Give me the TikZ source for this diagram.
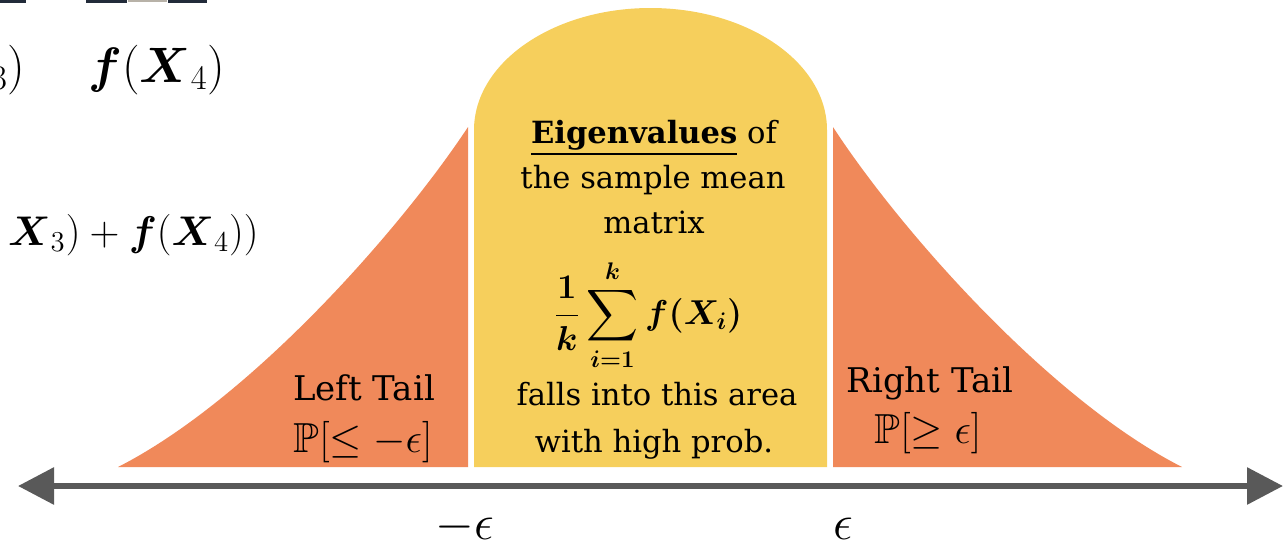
\documentclass[tikz,border=0pt]{standalone}
\usepackage{amsmath,amssymb}
\usepackage{fontspec}
\setmainfont{DejaVu Serif}
\usetikzlibrary{arrows.meta}
\definecolor{tailorange}{HTML}{F0895A}
\definecolor{midyellow}{HTML}{F6CF5C}
\definecolor{axisgray}{HTML}{595959}
\definecolor{boxnavy}{HTML}{222B3A}
\definecolor{boxgray}{HTML}{B8B2A8}

\begin{document}
\begin{tikzpicture}[x=0.5pt, y=-0.5pt,
  midtext/.style={font=\fontsize{15.3}{18}\selectfont, anchor=base, inner sep=0pt},
  tailtext/.style={font=\fontsize{17}{20}\selectfont, anchor=base, inner sep=0pt},
  tailmath/.style={font=\fontsize{21}{24}\selectfont, anchor=base, inner sep=0pt},
  topmath/.style={font=\fontsize{23.5}{27}\selectfont, inner sep=0pt},
  meanmath/.style={font=\fontsize{18}{21}\selectfont\boldmath, inner sep=0pt},
  epstext/.style={font=\fontsize{23}{26}\selectfont, inner sep=0pt},
  numline/.style={line width=3pt, draw=axisgray,
    {Triangle[length=18pt,width=18pt]}-{Triangle[length=18pt,width=18pt]}}]
  \useasboundingbox (0,0) rectangle (1286,542);
  \clip (0,0) rectangle (1286,542);

  % cut-off boxes at the top
  \fill[boxnavy] (-2,-4) rectangle (26,3);
  \fill[boxnavy] (86,-4) rectangle (127,3);
  \fill[boxgray] (128,-4) rectangle (167,2);
  \fill[boxnavy] (168,-4) rectangle (207,3);

  % cut-off formulas on the left
  \node[topmath, anchor=base east] (fxthree) at (26,82) {$\boldsymbol{f}(\boldsymbol{X}_3)$};
  \node[topmath, anchor=base west] (fxfour) at (88,82) {$\boldsymbol{f}(\boldsymbol{X}_4)$};
  \node[topmath, font=\fontsize{22.5}{27}\selectfont, anchor=base east] (fxsum) at (259,245)
    {$\boldsymbol{X}_3)+\boldsymbol{f}(\boldsymbol{X}_4))$};

  % left tail
  \fill[tailorange] (118,467) .. controls (250,400) and (400,230) .. (468,127)
    -- (468,467) -- cycle;
  % right tail
  \fill[tailorange] (1182,467) .. controls (1050,400) and (900,230) .. (833,127)
    -- (833,467) -- cycle;
  % middle part
  \fill[midyellow] (474,467) -- (474,130)
    .. controls (474,62.6) and (553,8) .. (650.5,8)
    .. controls (748,8) and (827,62.6) .. (827,130)
    -- (827,467) -- cycle;

  % tail labels
  \node[tailtext] (lefttail) at (364,400) {Left Tail};
  \node[tailmath] (leftprob) at (363,452) {$\mathbb{P}[\leq -\epsilon]$};
  \node[tailtext] (righttail) at (930,392) {Right Tail};
  \node[tailmath] (rightprob) at (928,443) {$\mathbb{P}[\geq \epsilon]$};

  % middle labels
  \node[midtext] (eigen) at (654,143) {\underline{\textbf{Eigenvalues}} of};
  \node[midtext] (sample) at (653,188) {the sample mean};
  \node[midtext] (matrixline) at (654,233) {matrix};
  \node[meanmath] (mean) at (648,315) {$\displaystyle\frac{1}{k}\sum_{i=1}^{k} f(X_i)$};
  \node[midtext] (falls) at (657,405) {falls into this area};
  \node[midtext] (prob) at (654,452) {with high prob.};

  % number line
  \coordinate (lineleft) at (18,486);
  \coordinate (lineright) at (1283,486);
  \draw[numline] (lineleft) -- (lineright);
  \node[epstext] (minuseps) at (465,527) {$-\epsilon$};
  \node[epstext] (pluseps) at (843,529) {$\epsilon$};
\end{tikzpicture}
\end{document}
